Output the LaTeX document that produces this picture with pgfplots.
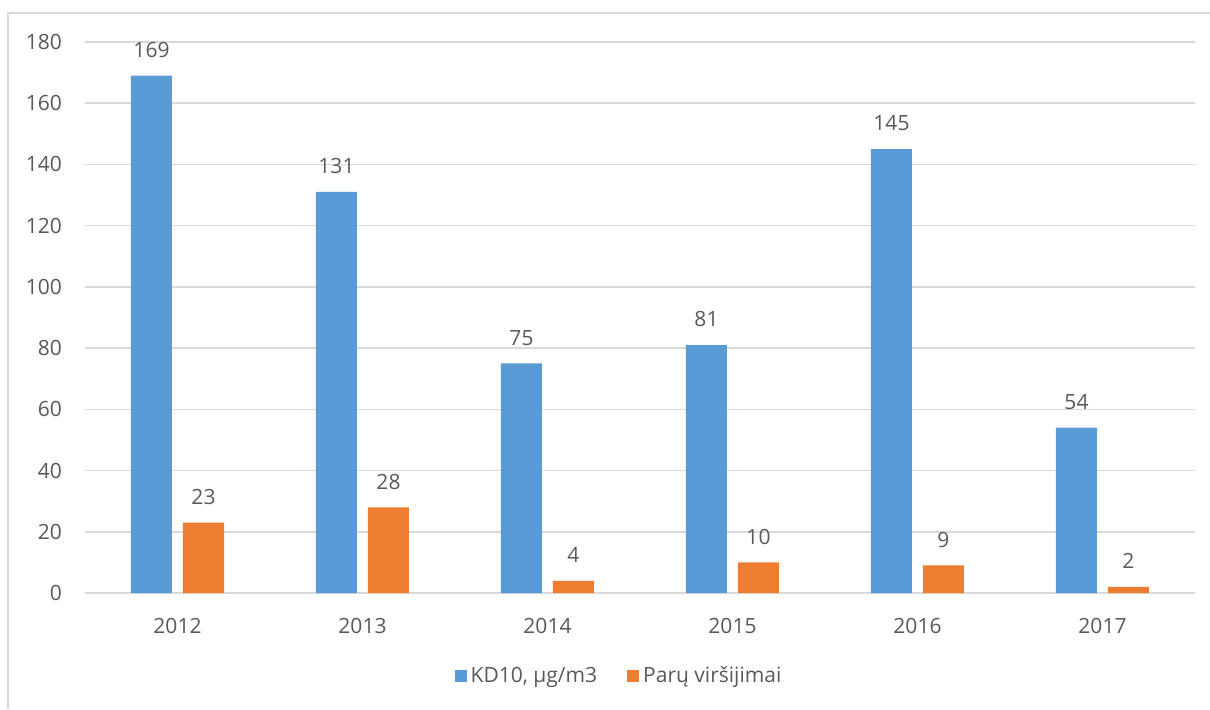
\documentclass[border=0pt]{standalone}
\usepackage{fontspec}
\setmainfont{Open Sans}
\usepackage{pgfplots}
\pgfplotsset{compat=1.18}
\definecolor{cblue}{HTML}{5B9BD5}
\definecolor{corange}{HTML}{ED7D31}
\definecolor{cgrid}{HTML}{D9D9D9}
\definecolor{ctext}{HTML}{595959}
\begin{document}
\begin{tikzpicture}
\useasboundingbox (0pt,0pt) rectangle (605pt,354.5pt);
\draw[cgrid, line width=0.75pt] (4pt,0pt) -- (4pt,348pt) -- (605pt,348pt);
\begin{axis}[
  at={(42.5pt,58pt)}, anchor=south west,
  scale only axis, width=555pt, height=275.5pt,
  xmin=-0.5, xmax=5.5, ymin=0, ymax=180,
  ytick={0,20,...,180},
  xtick={0,1,2,3,4,5},
  xticklabels={2012,2013,2014,2015,2016,2017},
  ybar=5.5pt, bar width=20.5pt,
  major tick length=0pt,
  axis line style={draw=none},
  ymajorgrids, grid style={cgrid, line width=0.75pt},
  tick label style={font=\fontsize{10.5}{12.5}\selectfont, text=ctext},
  yticklabel style={xshift=-8pt},
  xticklabel style={yshift=-9pt},
  /pgf/number format/assume math mode=true,
  nodes near coords,
  every node near coord/.append style={font=\fontsize{10.5}{12.5}\selectfont, text=ctext, yshift=5.5pt},
  legend style={draw=none, at={(0.482,-0.1506)}, anchor=center,
    font=\fontsize{10.5}{12.5}\selectfont, text=ctext,
    /tikz/every even column/.append style={column sep=13pt},
    legend cell align=left},
  legend columns=2,
  legend image code/.code={\fill[#1,draw=none] (0pt,-3pt) rectangle (6pt,3pt);},
]
\addplot[fill=cblue, draw=none] coordinates {(0,169) (1,131) (2,75) (3,81) (4,145) (5,54)};
\addplot[fill=corange, draw=none] coordinates {(0,23) (1,28) (2,4) (3,10) (4,9) (5,2)};
\legend{{KD10, µg/m3}, {Parų viršijimai}}
\end{axis}
\end{tikzpicture}
\end{document}
